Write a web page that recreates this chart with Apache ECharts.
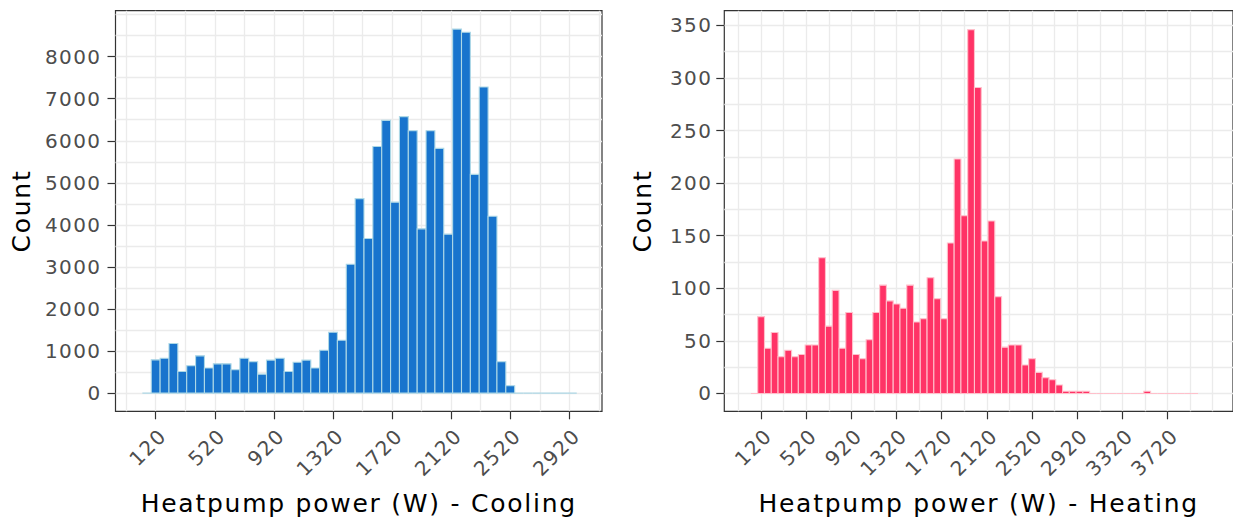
<!DOCTYPE html>
<html>
<head>
<meta charset="utf-8">
<script src="https://cdn.jsdelivr.net/npm/echarts@6/dist/echarts.min.js"></script>
<style>
html, body { margin: 0; padding: 0; background: #ffffff; }
#chart { width: 1233px; height: 527px; }
#chart svg text { letter-spacing: 0.07em; }
</style>
</head>
<body>
<div id="chart"></div>
<script>
// ---- data (bin centres in W, counts) ----
const BIN_WIDTH = 60;

const coolingBins = [60,120,180,240,300,360,420,480,540,600,660,720,780,840,900,960,1020,1080,1140,1200,1260,1320,1380,1440,1500,1560,1620,1680,1740,1800,1860,1920,1980,2040,2100,2160,2220,2280,2340,2400,2460,2520,2580,2640,2700,2760,2820,2880,2940];
const coolingCounts = [0,790,830,1180,515,650,885,595,695,695,555,830,745,450,785,830,515,735,785,595,1020,1445,1255,3065,4625,3675,5865,6485,4540,6575,6240,3905,6240,5820,3780,8655,8580,5200,7280,4205,745,175,0,0,0,0,0,0,0];

const heatingBins = [60,120,180,240,300,360,420,480,540,600,660,720,780,840,900,960,1020,1080,1140,1200,1260,1320,1380,1440,1500,1560,1620,1680,1740,1800,1860,1920,1980,2040,2100,2160,2220,2280,2340,2400,2460,2520,2580,2640,2700,2760,2820,2880,2940,3000,3060,3120,3180,3240,3300,3360,3420,3480,3540,3600,3660,3720,3780,3840,3900,3960];
const heatingCounts = [0,73,43,58,35,41,35,37,46,46,129,64,98,43,77,37,33,51,77,103,88,85,81,103,68,71,110,90,71,143,223,169,346,291,145,164,92,44,46,46,27,33,20,15,13,8,2,2,2,2,0,0,0,0,0,0,0,0,2,0,0,0,0,0,0,0];

// ---- tick labels / grid breaks ----
const coolingXTicks = [120,520,920,1320,1720,2120,2520,2920];
const coolingXMinor = [-80,320,720,1120,1520,1920,2320,2720,3120];
const coolingYTicks = [0,1000,2000,3000,4000,5000,6000,7000,8000];
const coolingYMinor = [500,1500,2500,3500,4500,5500,6500,7500,8500,9000];

const heatingXTicks = [120,520,920,1320,1720,2120,2520,2920,3320,3720];
const heatingXMinor = [-80,320,720,1120,1520,1920,2320,2720,3120,3520,3920,4120];
const heatingYTicks = [0,50,100,150,200,250,300,350];
const heatingYMinor = [25,75,125,175,225,275,325];

const coolingTitle = 'Heatpump power (W) - Cooling';
const heatingTitle = 'Heatpump power (W) - Heating';
const yTitle = 'Count';

// ---- styling ----
const FONT = 'DejaVu Sans, Liberation Sans, sans-serif';
const GRID_COLOR = '#EBEBEB';
const BORDER_COLOR = '#333333';
const TICK_LABEL_COLOR = '#4D4D4D';

function majorX(grid, min, max, ticks, title) {
  return {
    gridIndex: grid, type: 'value', min: min, max: max, position: 'bottom',
    axisLine: { show: false, onZero: false },
    axisTick: { show: true, customValues: ticks, length: 8, lineStyle: { color: BORDER_COLOR, width: 1.2 } },
    axisLabel: { customValues: ticks, formatter: v => String(v), rotate: 45, align: 'right', verticalAlign: 'top',
                 margin: 14, color: TICK_LABEL_COLOR, fontSize: 20, fontFamily: FONT },
    splitLine: { show: true, lineStyle: { color: GRID_COLOR, width: 1.3 } },
    name: title, nameLocation: 'middle', nameGap: 80,
    nameTextStyle: { color: '#000', fontSize: 25, fontFamily: FONT }
  };
}
function minorX(grid, min, max, ticks) {
  return {
    gridIndex: grid, type: 'value', min: min, max: max, position: 'bottom',
    axisLine: { show: false, onZero: false },
    axisTick: { show: false, customValues: ticks },
    axisLabel: { show: false },
    splitLine: { show: true, lineStyle: { color: GRID_COLOR, width: 1.3 } }
  };
}
function majorY(grid, min, max, ticks, margin, gap) {
  return {
    gridIndex: grid, type: 'value', min: min, max: max, position: 'left',
    axisLine: { show: false, onZero: false },
    axisTick: { show: true, customValues: ticks, length: 8, lineStyle: { color: BORDER_COLOR, width: 1.2 } },
    axisLabel: { customValues: ticks, formatter: v => String(v), margin: margin,
                 color: TICK_LABEL_COLOR, fontSize: 20, fontFamily: FONT },
    splitLine: { show: true, lineStyle: { color: GRID_COLOR, width: 1.3 } },
    name: yTitle, nameLocation: 'middle', nameGap: gap,
    nameTextStyle: { color: '#000', fontSize: 25, fontFamily: FONT }
  };
}
function minorY(grid, min, max, ticks) {
  return {
    gridIndex: grid, type: 'value', min: min, max: max, position: 'left',
    axisLine: { show: false, onZero: false },
    axisTick: { show: false, customValues: ticks },
    axisLabel: { show: false },
    splitLine: { show: true, lineStyle: { color: GRID_COLOR, width: 1.3 } }
  };
}
function histRenderer(fill, stroke) {
  return function (params, api) {
    const x = api.value(0), c = api.value(1);
    const p0 = api.coord([x - BIN_WIDTH / 2, c]);
    const p1 = api.coord([x + BIN_WIDTH / 2, 0]);
    return {
      type: 'rect',
      shape: { x: p0[0], y: p0[1], width: p1[0] - p0[0], height: p1[1] - p0[1] },
      style: { fill: fill, stroke: stroke, lineWidth: 1.1 }
    };
  };
}

const chart = echarts.init(document.getElementById('chart'), null, { renderer: 'svg' });
chart.setOption({
  backgroundColor: '#ffffff',
  animation: false,
  grid: [
    { left: 115.5, top: 10.7, width: 486.5, height: 400.6, show: true, borderColor: BORDER_COLOR, borderWidth: 1.2, backgroundColor: 'transparent' },
    { left: 724.3, top: 10.7, width: 525.7, height: 400.6, show: true, borderColor: BORDER_COLOR, borderWidth: 1.2, backgroundColor: 'transparent' }
  ],
  xAxis: [
    majorX(0, -152, 3141, coolingXTicks, coolingTitle),
    minorX(0, -152, 3141, coolingXMinor),
    majorX(1, -206, 4300, heatingXTicks, heatingTitle),
    minorX(1, -206, 4300, heatingXMinor)
  ],
  yAxis: [
    majorY(0, -433, 9093, coolingYTicks, 14, 82),
    minorY(0, -433, 9093, coolingYMinor),
    majorY(1, -17, 364, heatingYTicks, 12, 69),
    minorY(1, -17, 364, heatingYMinor)
  ],
  series: [
    {
      type: 'custom', xAxisIndex: 0, yAxisIndex: 0, clip: true,
      renderItem: histRenderer('#1874CD', '#ADD8E6'),
      encode: { x: 0, y: 1 },
      data: coolingBins.map((b, i) => [b, coolingCounts[i]])
    },
    {
      type: 'custom', xAxisIndex: 2, yAxisIndex: 2, clip: true,
      renderItem: histRenderer('#FF3366', '#FFC0CB'),
      encode: { x: 0, y: 1 },
      data: heatingBins.map((b, i) => [b, heatingCounts[i]])
    }
  ]
});
</script>
</body>
</html>
